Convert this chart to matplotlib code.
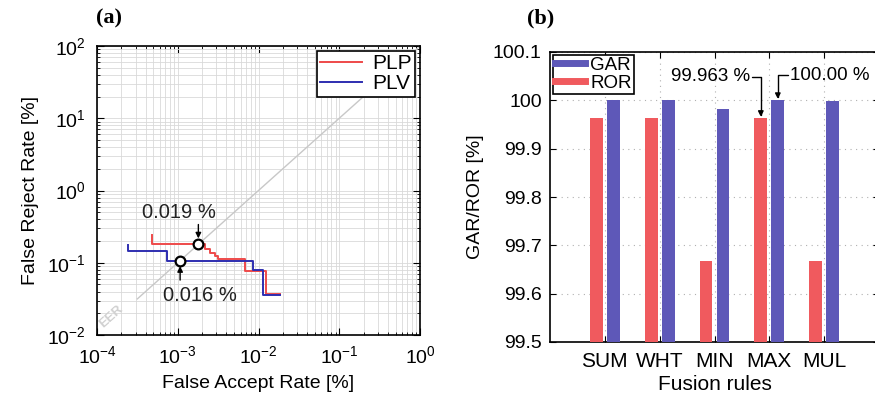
import numpy as np
import matplotlib
matplotlib.use('Agg')
import matplotlib.pyplot as plt
from matplotlib.lines import Line2D

plt.rcParams['font.family'] = ['Liberation Sans', 'DejaVu Sans']
plt.rcParams['mathtext.fontset'] = 'custom'
plt.rcParams['mathtext.rm'] = 'Liberation Sans'

# ---- panel (a): DET curves (values in %)
plp_far = [4.75e-4, 2.17e-3, 2.51e-3, 2.89e-3, 3.18e-3, 6.81e-3, 1.24e-2, 1.85e-2]
plp_frr = [0.242, 0.182, 0.153, 0.138, 0.124, 0.112, 0.0769, 0.0369]
plv_far = [2.44e-4, 7.43e-4, 8.63e-3, 1.15e-2, 1.85e-2]
plv_frr = [0.176, 0.146, 0.107, 0.0794, 0.0358]
eer_far = [1.80e-3, 1.07e-3]
eer_frr = [0.182, 0.107]
eer_labels = ['0.019 %', '0.016 %']

# ---- panel (b): fusion rules
rules = ['SUM', 'WHT', 'MIN', 'MAX', 'MUL']
gar = [100.0, 100.0, 99.983, 100.0, 99.998]
ror = [99.963, 99.963, 99.667, 99.963, 99.667]
b_ticks = [99.5, 99.6, 99.7, 99.8, 99.9, 100.0, 100.1]
b_ticklabels = ['99.5', '99.6', '99.7', '99.8', '99.9', '100', '100.1']

red = '#ee4a4a'
blue = '#2e2eb0'
bar_red = '#f05a5e'
bar_blue = '#5e58b8'

fig = plt.figure(figsize=(8.75, 4), dpi=100)
ax1 = fig.add_axes([97/875, 1-335/400, 323/875, 289/400])
ax2 = fig.add_axes([550/875, 1-342/400, 329/875, 290/400])

# ---------------- (a)
ax1.set_xscale('log')
ax1.set_yscale('log')
ax1.set_xlim(1e-4, 1)
ax1.set_ylim(1e-2, 1e2)
ax1.grid(True, which='both', color='#d9d9d9', lw=0.6)
ax1.set_axisbelow(True)

# EER diagonal
xx = np.array([1e-4 * 10**0.5, 1.0])
ax1.plot(xx, xx * 100, color='#c8c8c8', lw=1)
ax1.text(10**-3.82, 10**-1.74, 'EER', color='#d0d0d0', fontsize=9.5, fontweight='bold',
         rotation=42, ha='center', va='center')

ax1.plot(plp_far, plp_frr, drawstyle='steps-pre', color=red, lw=1.4, label='PLP')
ax1.plot(plv_far, plv_frr, drawstyle='steps-pre', color=blue, lw=1.4, label='PLV')
ax1.plot(eer_far, eer_frr, 'o', ms=7, mfc='white', mec='black', mew=1.6, zorder=5)

ax1.annotate(eer_labels[0], xy=(eer_far[0], eer_frr[0]), xytext=(-14, 23),
             textcoords='offset points', ha='center', va='center', fontsize=14.5, color='#222222')
ax1.annotate('', xy=(eer_far[0], eer_frr[0]), xytext=(0, 16), textcoords='offset points',
             arrowprops=dict(arrowstyle='-|>', color='black', lw=1, mutation_scale=8, shrinkB=4))
ax1.annotate(eer_labels[1], xy=(eer_far[1], eer_frr[1]), xytext=(14, -25),
             textcoords='offset points', ha='center', va='center', fontsize=14.5, color='#222222')
ax1.annotate('', xy=(eer_far[1], eer_frr[1]), xytext=(0, -16), textcoords='offset points',
             arrowprops=dict(arrowstyle='-|>', color='black', lw=1, mutation_scale=8, shrinkB=4))

leg = ax1.legend(loc='upper right', fontsize=15, fancybox=False, framealpha=1,
                 edgecolor='black', borderaxespad=0.25, borderpad=0.15, labelspacing=0.05,
                 handlelength=2.0, handletextpad=0.5)
leg.get_frame().set_linewidth(1.2)

ax1.set_xticks([1e-4, 1e-3, 1e-2, 1e-1, 1])
ax1.set_yticks([1e-2, 1e-1, 1, 1e1, 1e2])
ax1.tick_params(which='both', direction='in', top=True, right=True, labelsize=14)
ax1.tick_params(which='major', length=5)
ax1.tick_params(which='minor', length=2.5)
ax1.tick_params(axis='y', pad=8)
ax1.tick_params(axis='x', pad=7)
ax1.set_xlabel('False Accept Rate [%]', fontsize=14, labelpad=6)
ax1.set_ylabel('False Reject Rate [%]', fontsize=14, labelpad=6)

# ---------------- (b)
x = np.arange(1, len(rules) + 1)
off = 0.155
w = 0.235
ax2.bar(x - off, np.array(ror) - 99.5, w, bottom=99.5, color=bar_red, zorder=3)
ax2.bar(x + off, np.array(gar) - 99.5, w, bottom=99.5, color=bar_blue, zorder=3)
ax2.set_xlim(0, 6)
ax2.set_ylim(99.5, 100.1)
ax2.set_yticks(b_ticks)
ax2.set_yticklabels(b_ticklabels)
ax2.set_xticks(x)
ax2.set_xticklabels(rules)
ax2.grid(True, color='#b0b0b0', ls=(0, (1, 4)), lw=0.8)
ax2.set_axisbelow(True)
ax2.tick_params(direction='in', top=True, right=True, labelsize=14, length=4)
ax2.tick_params(axis='x', pad=7, labelsize=15)
ax2.tick_params(axis='y', pad=6)
ax2.set_xlabel('Fusion rules', fontsize=15, labelpad=3)
ax2.set_ylabel('GAR/ROR [%]', fontsize=14, labelpad=6)

i = rules.index('MAX')
ax2.annotate('99.963 %', xy=(x[i] - off, ror[i]), xytext=(-8, 30), textcoords='offset points',
             ha='right', va='center', fontsize=13.5,
             arrowprops=dict(arrowstyle='-|>', color='black', lw=1, mutation_scale=8,
                             connectionstyle='angle,angleA=0,angleB=90,rad=0', shrinkA=0, shrinkB=1))
ax2.annotate('100.00 %', xy=(x[i] + off, gar[i]), xytext=(9, 18), textcoords='offset points',
             ha='left', va='center', fontsize=13.5,
             arrowprops=dict(arrowstyle='-|>', color='black', lw=1, mutation_scale=8,
                             connectionstyle='angle,angleA=0,angleB=90,rad=0', shrinkA=0, shrinkB=1))

handles = [Line2D([], [], color=bar_blue, lw=5), Line2D([], [], color=bar_red, lw=5)]
leg2 = ax2.legend(handles, ['GAR', 'ROR'], loc='upper left', fontsize=13.5, fancybox=False,
                  framealpha=1, edgecolor='black', borderaxespad=0.15, borderpad=0.1,
                  labelspacing=0.05, handlelength=1.6, handletextpad=0.3)
leg2.get_frame().set_linewidth(1.2)

for ax in (ax1, ax2):
    for s in ax.spines.values():
        s.set_linewidth(1.2)

fig.text(96/875, 1-18/400, '(a)', family='Liberation Serif', fontweight='bold', fontsize=16, va='center')
fig.text(527/875, 1-18/400, '(b)', family='Liberation Serif', fontweight='bold', fontsize=16, va='center')

fig.savefig('out.png', dpi=100)
